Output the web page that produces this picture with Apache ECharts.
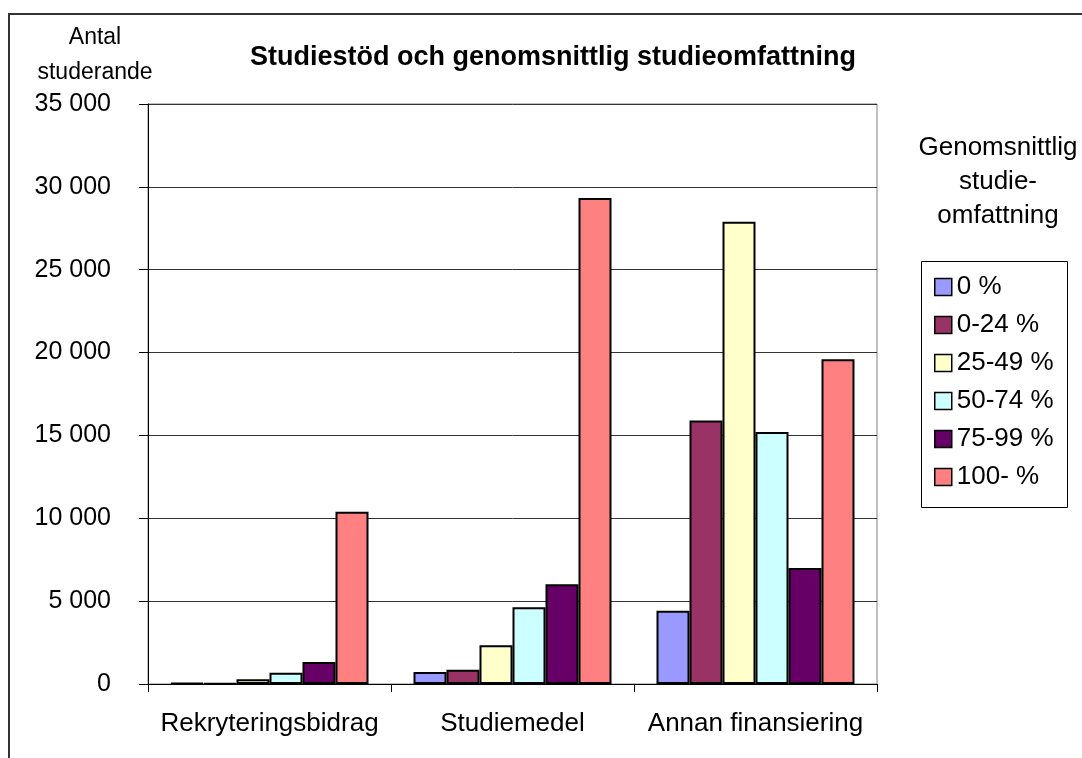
<!DOCTYPE html>
<html>
<head>
<meta charset="utf-8">
<script src="https://cdn.jsdelivr.net/npm/echarts@6/dist/echarts.min.js"></script>
<style>
  html, body { margin: 0; padding: 0; background: #fff; }
  #main { width: 1082px; height: 758px; }
</style>
</head>
<body>
<div id="main"></div>
<script>
// categories (x axis) and the six study-extent groups
const categories = ['Rekryteringsbidrag', 'Studiemedel', 'Annan finansiering'];
const groupNames = ['0 %', '0-24 %', '25-49 %', '50-74 %', '75-99 %', '100- %'];

// values per group, one entry per category
const v0 = [60, 720, 4420];
const v0_24 = [20, 860, 15900];
const v25_49 = [280, 2340, 27900];
const v50_74 = [680, 4630, 15200];
const v75_99 = [1330, 6020, 7000];
const v100 = [10400, 29330, 19600];

const groupValues = [v0, v0_24, v25_49, v50_74, v75_99, v100];
const colors = ['#9999FF', '#993366', '#FFFFCC', '#CCFFFF', '#660066', '#FF8080'];

const font = 'Liberation Sans, Arial, sans-serif';

const chart = echarts.init(document.getElementById('main'));

const option = {
  backgroundColor: '#fff',
  animation: false,
  title: [
    {
      text: 'Studiestöd och genomsnittlig studieomfattning',
      left: 548,
      top: 39,
      textAlign: 'center',
      textStyle: { fontFamily: font, fontSize: 27, fontWeight: 'bold', color: '#000' }
    },
    {
      text: 'Antal\nstuderande',
      left: 90,
      top: 15,
      textAlign: 'center',
      textStyle: { fontFamily: font, fontSize: 23, fontWeight: 'normal', color: '#000', lineHeight: 35, align: 'center' }
    },
    {
      text: 'Genomsnittlig\nstudie-\nomfattning',
      left: 993,
      top: 126,
      textAlign: 'center',
      textStyle: { fontFamily: font, fontSize: 26, fontWeight: 'normal', color: '#000', lineHeight: 34, align: 'center' }
    }
  ],
  graphic: [
    {
      type: 'rect',
      shape: { x: 9, y: 14, width: 1090, height: 760 },
      style: { fill: null, stroke: '#333', lineWidth: 2 },
      silent: true
    },
    {
      type: 'rect',
      shape: { x: 921.5, y: 261.5, width: 146, height: 246 },
      style: { fill: null, stroke: '#000', lineWidth: 1 },
      silent: true
    }
  ],
  legend: {
    data: groupNames,
    orient: 'vertical',
    left: 929,
    top: 269,
    itemWidth: 17,
    itemHeight: 17,
    itemGap: 12,
    icon: 'rect',
    itemStyle: { borderColor: '#000', borderWidth: 1.5 },
    textStyle: { fontFamily: font, fontSize: 26, color: '#000' }
  },
  grid: {
    left: 148,
    right: 205,
    top: 104,
    bottom: 74,
    show: true,
    borderColor: '#808080',
    borderWidth: 1,
    containLabel: false
  },
  xAxis: {
    type: 'category',
    data: categories,
    axisLine: { lineStyle: { color: '#000', width: 1 } },
    axisTick: { show: true, alignWithLabel: false, interval: 0, length: 8, lineStyle: { color: '#000' } },
    axisLabel: { fontFamily: font, fontSize: 26, color: '#000', margin: 27, interval: 0, hideOverlap: false },
    splitLine: { show: false }
  },
  yAxis: {
    type: 'value',
    min: 0,
    max: 35000,
    interval: 5000,
    axisLine: { show: true, lineStyle: { color: '#000', width: 1 } },
    axisTick: { show: true, length: 9, lineStyle: { color: '#000' } },
    axisLabel: {
      fontFamily: font,
      fontSize: 25,
      color: '#000',
      margin: 37,
      formatter: v => (v === 0 ? '0' : (v / 1000) + ' 000')
    },
    splitLine: { show: true, lineStyle: { color: '#333', width: 1 } }
  },
  series: groupNames.map((name, i) => ({
    name: name,
    type: 'bar',
    data: groupValues[i],
    barWidth: 33,
    barGap: '0%',
    itemStyle: { color: colors[i], borderColor: '#000', borderWidth: 2 }
  }))
};

chart.setOption(option);
</script>
</body>
</html>
